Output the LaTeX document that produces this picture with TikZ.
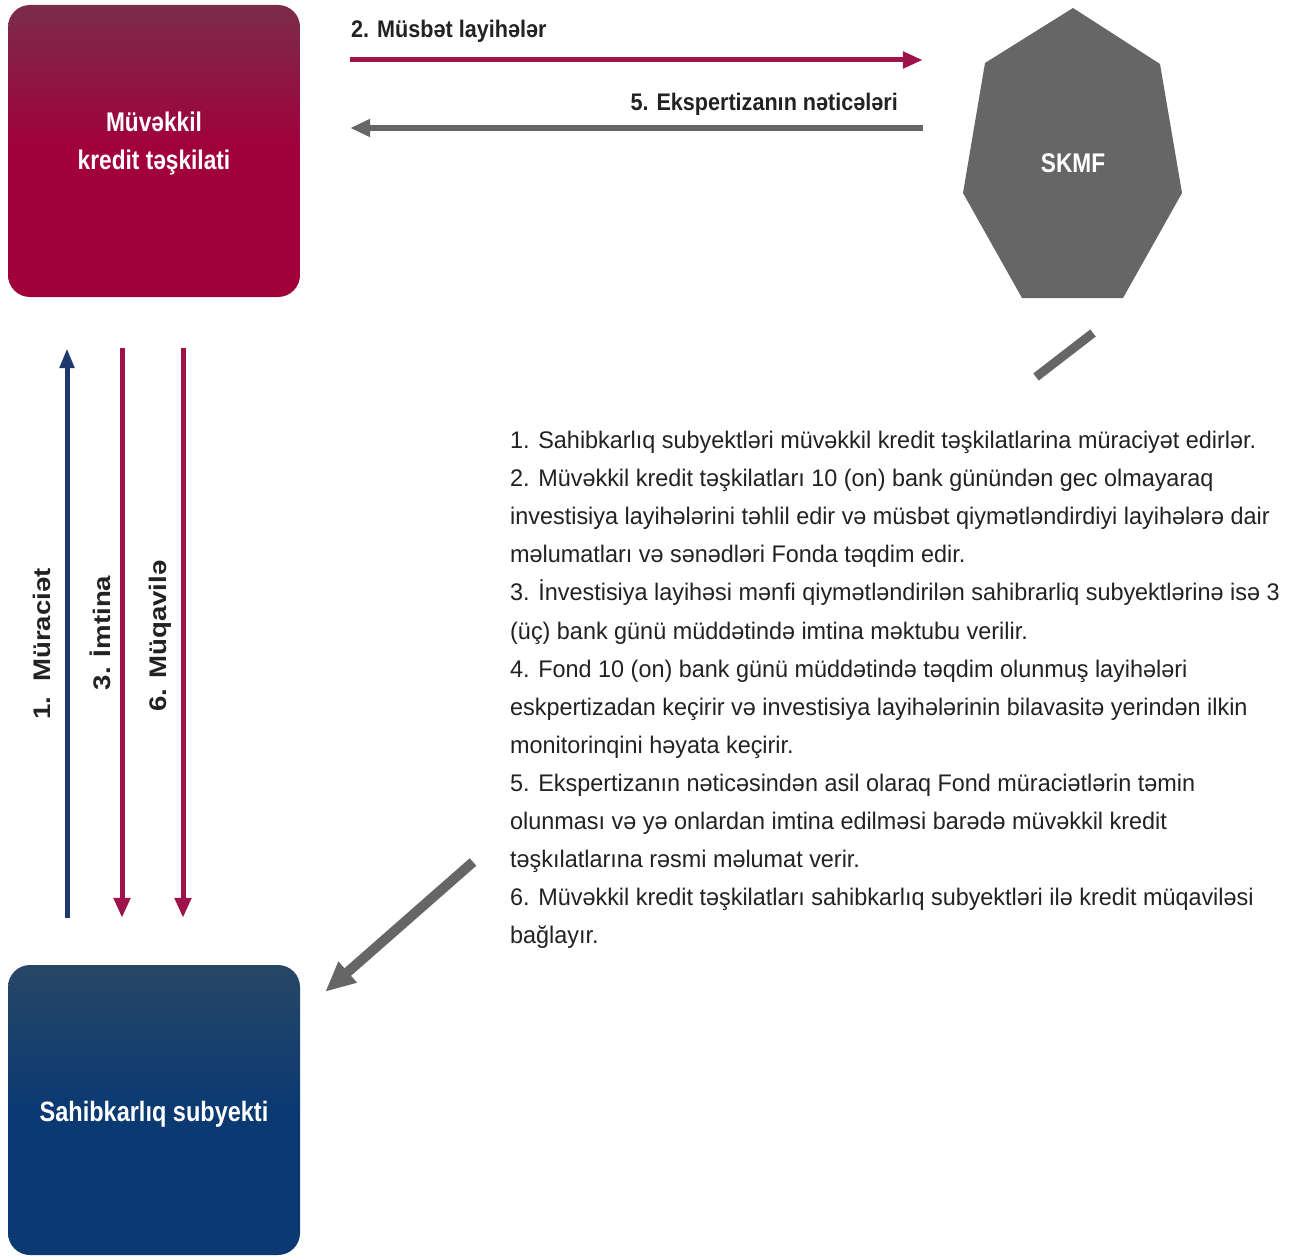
\documentclass[tikz,border=0pt]{standalone}
\usepackage{fontspec}
\setmainfont{Liberation Sans}[FakeStretch=0.84]
\newfontfamily\bodyfont{Liberation Sans}[FakeStretch=0.975]
\newfontfamily\lblfont{Liberation Sans}[FakeStretch=0.9]
\newfontfamily\vfont{Liberation Sans}[FakeStretch=1.15]
\usetikzlibrary{arrows.meta}
\definecolor{crimTop}{HTML}{7B2C4A}
\definecolor{crim}{HTML}{A1003A}
\definecolor{crimArrow}{HTML}{9E1349}
\definecolor{navyTop}{HTML}{274766}
\definecolor{navy}{HTML}{0B3A72}
\definecolor{blueArrow}{HTML}{1E3A6D}
\definecolor{grayF}{HTML}{666666}
\definecolor{txt}{HTML}{222222}
\tikzset{
  bigbox/.style={rectangle, rounded corners=22pt, minimum width=292pt, minimum height=292pt, inner sep=0pt},
  boxtext/.style={inner sep=0pt, align=center, text=white, font=\bfseries\fontsize{27}{38}\selectfont},
  lbl/.style={inner sep=0pt, text=txt, font=\lblfont\bfseries\fontsize{24}{28}\selectfont},
  vlbl/.style={inner sep=0pt, text=txt, rotate=90, font=\vfont\bfseries\fontsize{24}{28}\selectfont},
  redarrow/.style={draw=crimArrow, line width=5pt, -{Triangle[length=20pt,width=16pt]}},
  bluearr/.style={draw=blueArrow, line width=5pt, -{Triangle[length=20pt,width=14pt]}},
  grayarrow/.style={draw=grayF, line width=6pt, -{Triangle[length=20pt,width=17pt]}},
  diagarrow/.style={draw=grayF, line width=10pt, -{Triangle[length=30pt,width=26pt]}}
}
\begin{document}
\begin{tikzpicture}[x=1pt,y=-1pt]
\useasboundingbox (0,0) rectangle (1300,1257);
\fill[white] (0,0) rectangle (1300,1257);

% boxes
\node[bigbox, top color=crimTop, bottom color=crim, middle color=crim] (muv) at (154,151) {};
\node[boxtext] (muvtxt) at ([yshift=7pt]muv.center) {Müvəkkil\\kredit təşkilati};
\node[bigbox, minimum height=290pt, top color=navyTop, bottom color=navy, middle color=navy] (sahib) at (154,1110) {};
\node[boxtext, font=\bfseries\fontsize{28}{34}\selectfont] (sahibtxt) at ([yshift=-4pt]sahib.center) {Sahibkarlıq subyekti};

% heptagon
\fill[grayF] (1073,8) -- (1160,64) -- (1182,193) -- (1123,298) -- (1022,298) -- (963,193) -- (985,63) -- cycle;
\node[inner sep=0pt, minimum width=218pt, minimum height=290pt, text=white, font=\bfseries\fontsize{27}{32}\selectfont] (skmf) at (1073,163) {SKMF};

% top arrows
\draw[redarrow, shorten <=50pt, shorten >=41pt] (muv.east |- 0,60) -- (skmf.west |- 0,60);
\node[lbl, anchor=west] (l2) at (351,31) {2. Müsbət layihələr};
\draw[grayarrow, shorten <=41pt, shorten >=50pt] (skmf.west |- 0,128) -- (muv.east |- 0,128);
\node[lbl, anchor=east] (l5) at (898,104) {5. Ekspertizanın nəticələri};

% vertical arrows
\draw[bluearr, shorten <=47pt, shorten >=51pt] ([xshift=-87pt]sahib.north) -- ([xshift=-87pt]muv.south);
\draw[redarrow, shorten <=51pt, shorten >=47pt] ([xshift=-32pt]muv.south) -- ([xshift=-32pt]sahib.north);
\draw[redarrow, shorten <=51pt, shorten >=47pt] ([xshift=29pt]muv.south) -- ([xshift=29pt]sahib.north);
\node[vlbl] (v1) at (42,644) {1.\ \ Müraciət};
\node[vlbl] (v3) at (100,633) {3. İmtina};
\node[vlbl] (v6) at (160,636) {6. Müqavilə};

% diagonal connector from SKMF to Sahibkarlıq subyekti
\coordinate (d1) at (1093,333);
\coordinate (d2) at (1036,377);
\coordinate (d3) at (473,862);
\draw[draw=grayF, line width=9pt] (d1) -- (d2);
\draw[diagarrow] (d3) -- ([shift={(25pt,-27pt)}]sahib.north east);

% text block
\node[anchor=north west, inner sep=0pt, align=left, text=txt, font=\bodyfont\fontsize{24}{38.1}\selectfont] (desc) at (510,431) {%
1. Sahibkarlıq subyektləri müvəkkil kredit təşkilatlarina müraciyət edirlər.\\
2. Müvəkkil kredit təşkilatları 10 (on) bank günündən gec olmayaraq\\
investisiya layihələrini təhlil edir və müsbət qiymətləndirdiyi layihələrə dair\\
məlumatları və sənədləri Fonda təqdim edir.\\
3. İnvestisiya layihəsi mənfi qiymətləndirilən sahibrarliq subyektlərinə isə 3\\
(üç) bank günü müddətində imtina məktubu verilir.\\
4. Fond 10 (on) bank günü müddətində təqdim olunmuş layihələri\\
eskpertizadan keçirir və investisiya layihələrinin bilavasitə yerindən ilkin\\
monitorinqini həyata keçirir.\\
5. Ekspertizanın nəticəsindən asil olaraq Fond müraciətlərin təmin\\
olunması və yə onlardan imtina edilməsi barədə müvəkkil kredit\\
təşkılatlarına rəsmi məlumat verir.\\
6. Müvəkkil kredit təşkilatları sahibkarlıq subyektləri ilə kredit müqaviləsi\\
bağlayır.};
\end{tikzpicture}
\end{document}
